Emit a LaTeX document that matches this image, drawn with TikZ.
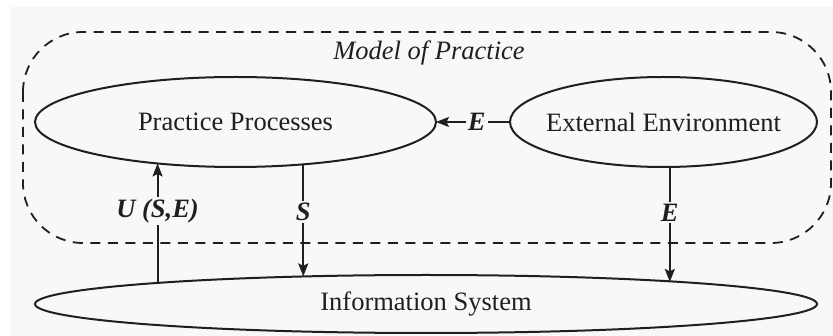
\documentclass[tikz,border=0pt]{standalone}
\usepackage{fontspec}
\setmainfont{Liberation Serif}
\usetikzlibrary{arrows.meta,shapes.geometric}
\definecolor{paper}{gray}{0.972}
\definecolor{ink}{gray}{0.12}

\begin{document}
\begin{tikzpicture}[->,>={Stealth[length=13pt,width=10pt,inset=2.5pt]},x=1pt,y=1pt,
        line width=2pt,draw=ink,text=ink,font=\fontsize{26.5}{30}\selectfont]
    \tikzset{
        blob/.style={ellipse,draw,inner sep=0pt,outer sep=0pt},
        tag/.style={fill=paper,inner sep=2pt,font=\fontsize{26.5}{30}\selectfont\bfseries\itshape},
    }
    \useasboundingbox (0,0) rectangle (833,-336);
    \fill[paper] (10,-7) rectangle (833,-336);

    % model boundary
    \draw[-,line width=1.8pt,dash pattern=on 10pt off 7.5pt,rounded corners=60pt] (23,-32) rectangle (831,-243);
    \node (model) at (429,-53) {\itshape Model of Practice};

    \node   [blob,minimum width=401pt,minimum height=90pt,label=center:Practice Processes]   (pp) at (235.5,-122) {};
    \node   [blob,minimum width=307pt,minimum height=90pt,label=center:External Environment] (ee) at (663.5,-122) {};
    \node   [blob,minimum width=782pt,minimum height=58pt,label=center:Information System]   (is) at (426,-304) {};

    \path   (ee) edge node [tag,pos=.45] {E} (pp);
    \path   (pp.208.53 |- is.175.46) edge node [tag,pos=.6] {U (S,E)} (pp.208.53)
            (pp.-32.12) edge node [tag,pos=.425] {S} (pp.-32.12 |- is.167.38);
    \path   (ee.278.2) edge node [tag,pos=.395] {E} (ee.278.2 |- is.5.31);
\end{tikzpicture}
\end{document}
